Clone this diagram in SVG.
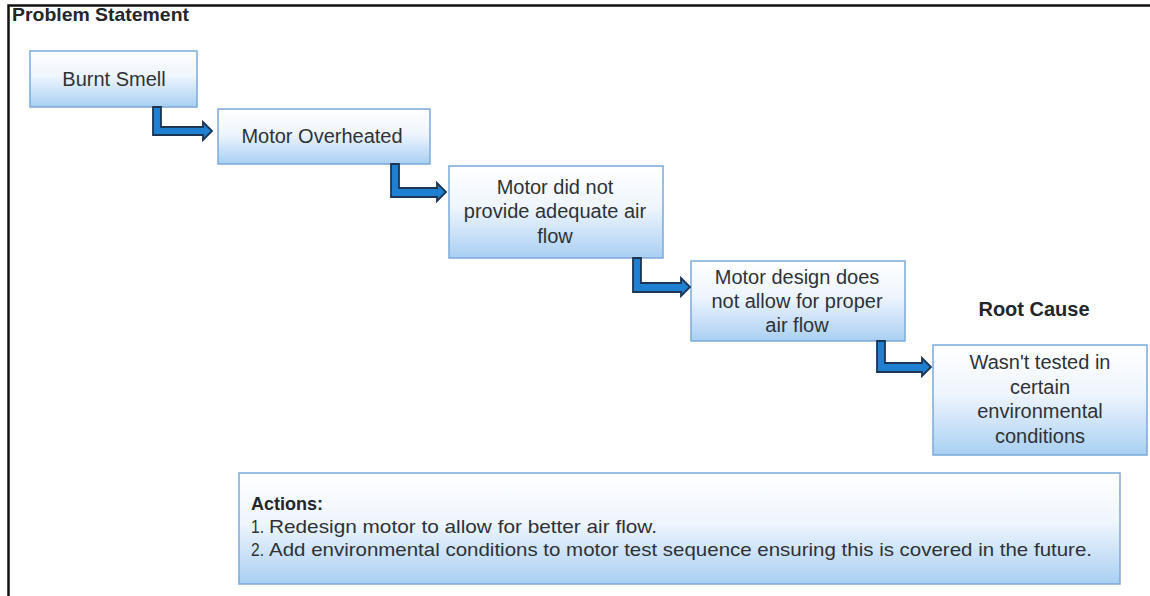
<svg xmlns="http://www.w3.org/2000/svg" width="1150" height="596" viewBox="0 0 1150 596">
  <defs>
    <linearGradient id="boxFill" x1="0" y1="0" x2="0" y2="1">
      <stop offset="0" stop-color="#ffffff"/>
      <stop offset="0.45" stop-color="#eef5fd"/>
      <stop offset="1" stop-color="#a9cff2"/>
    </linearGradient>
    <style>
      .box { fill: url(#boxFill); stroke: #7ba9da; stroke-width: 1.5; }
      .lbl { font-family: "Liberation Sans", Arial, sans-serif; font-size: 20px; fill: #2e3238; text-anchor: middle; }
      .hdr { font-family: "Liberation Sans", Arial, sans-serif; font-weight: bold; fill: #23262b; }
      .act { font-family: "Liberation Sans", Arial, sans-serif; font-size: 19px; fill: #2e3238; }
      .arrow { fill: #1f80d2; stroke: #1b3553; stroke-width: 1.8; stroke-linejoin: miter; }
    </style>
  </defs>

  <rect width="1150" height="596" fill="#ffffff"/>
  <!-- outer frame (top and left edges) -->
  <path d="M8.5 596 V5.5 H1150" fill="none" stroke="#111111" stroke-width="2.5"/>

  <text class="hdr" x="12" y="21" font-size="19" textLength="177" lengthAdjust="spacingAndGlyphs">Problem Statement</text>

  <g id="node-burnt-smell">
    <rect class="box" x="30" y="51" width="167" height="56"/>
    <text class="lbl" x="114" y="86">Burnt Smell</text>
  </g>

  <g id="node-motor-overheated">
    <rect class="box" x="218" y="109" width="212" height="55"/>
    <text class="lbl" x="322" y="143">Motor Overheated</text>
  </g>

  <g id="node-air-flow">
    <rect class="box" x="449" y="166" width="214" height="92"/>
    <text class="lbl" x="555" y="194">Motor did not</text>
    <text class="lbl" x="555" y="218">provide adequate air</text>
    <text class="lbl" x="555" y="243">flow</text>
  </g>

  <g id="node-motor-design">
    <rect class="box" x="691" y="261" width="214" height="80"/>
    <text class="lbl" x="797" y="284">Motor design does</text>
    <text class="lbl" x="797" y="308">not allow for proper</text>
    <text class="lbl" x="797" y="332">air flow</text>
  </g>

  <g id="node-root-cause">
    <text class="hdr" x="1034" y="316" font-size="20" text-anchor="middle">Root Cause</text>
    <rect class="box" x="933" y="345" width="214" height="110"/>
    <text class="lbl" x="1040" y="369">Wasn't tested in</text>
    <text class="lbl" x="1040" y="394">certain</text>
    <text class="lbl" x="1040" y="418">environmental</text>
    <text class="lbl" x="1040" y="443">conditions</text>
  </g>

  <g id="node-actions">
    <rect class="box" x="239" y="473" width="881" height="111"/>
    <text class="hdr" x="251" y="510" font-size="18">Actions:</text>
    <text class="act" x="251" y="533" textLength="13" lengthAdjust="spacingAndGlyphs">1.</text>
    <text class="act" x="269" y="533" textLength="388" lengthAdjust="spacingAndGlyphs">Redesign motor to allow for better air flow.</text>
    <text class="act" x="251" y="556" textLength="13" lengthAdjust="spacingAndGlyphs">2.</text>
    <text class="act" x="269" y="556" textLength="823" lengthAdjust="spacingAndGlyphs">Add environmental conditions to motor test sequence ensuring this is covered in the future.</text>
  </g>

  <g id="connectors">
    <path class="arrow" d="M153 107 H161 V127 H203 V122 L212 131 L203 140 V135 H153 Z"/>
    <path class="arrow" d="M391 164 H399 V188 H437 V183 L446 192 L437 201 V197 H391 Z"/>
    <path class="arrow" d="M633 258 H641 V283 H681 V278 L690 287 L681 296 V292 H633 Z"/>
    <path class="arrow" d="M877 341 H885 V363 H922 V358 L931 367 L922 376 V372 H877 Z"/>
  </g>
</svg>
